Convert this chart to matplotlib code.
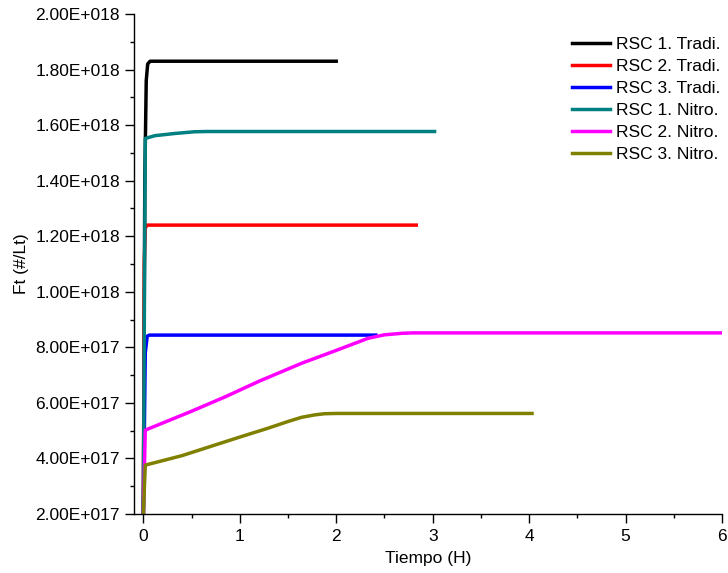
import matplotlib
matplotlib.use("Agg")
import matplotlib.pyplot as plt
from matplotlib.ticker import FuncFormatter, MultipleLocator
import numpy as np

plt.rcParams['font.family'] = ['Liberation Sans', 'DejaVu Sans']

labels = ["RSC 1. Tradi.", "RSC 2. Tradi.", "RSC 3. Tradi.",
          "RSC 1. Nitro.", "RSC 2. Nitro.", "RSC 3. Nitro."]
colors = ["#000000", "#ff0000", "#0000ff", "#008080", "#ff00ff", "#808000"]

x_rsc1_tradi = [0, 0.015, 0.03, 0.045, 0.07, 2.0]
y_rsc1_tradi = [0.2e18, 1.40e18, 1.76e18, 1.82e18, 1.83e18, 1.83e18]

x_rsc2_tradi = [0, 0.01, 0.02, 0.04, 2.83]
y_rsc2_tradi = [0.2e18, 1.10e18, 1.23e18, 1.24e18, 1.24e18]

x_rsc3_tradi = [0, 0.02, 0.04, 0.06, 2.41]
y_rsc3_tradi = [0.2e18, 0.78e18, 0.84e18, 0.844e18, 0.844e18]

x_rsc1_nitro = [0, 0.02, 0.12, 0.33, 0.53, 0.65, 3.02]
y_rsc1_nitro = [0.2e18, 1.552e18, 1.562e18, 1.570e18, 1.576e18, 1.577e18, 1.577e18]

x_rsc2_nitro = [0, 0.02, 0.5, 0.85, 1.2, 1.64, 2.0, 2.33, 2.5, 2.68, 2.8, 6.0]
y_rsc2_nitro = [0.2e18, 0.502e18, 0.57e18, 0.622e18, 0.678e18, 0.7425e18, 0.789e18,
                0.8325e18, 0.845e18, 0.8505e18, 0.852e18, 0.852e18]

x_rsc3_nitro = [0, 0.02, 0.4, 0.74, 1.0, 1.29, 1.5, 1.64, 1.78, 1.88, 2.0, 4.03]
y_rsc3_nitro = [0.2e18, 0.376e18, 0.41e18, 0.448e18, 0.477e18, 0.5085e18, 0.533e18,
                0.548e18, 0.557e18, 0.561e18, 0.562e18, 0.562e18]

series = [(x_rsc1_tradi, y_rsc1_tradi), (x_rsc2_tradi, y_rsc2_tradi),
          (x_rsc3_tradi, y_rsc3_tradi), (x_rsc1_nitro, y_rsc1_nitro),
          (x_rsc2_nitro, y_rsc2_nitro), (x_rsc3_nitro, y_rsc3_nitro)]

fig = plt.figure(figsize=(7.28, 5.73), dpi=100)
ax = fig.add_axes([133.7/728, 59/573, (722-133.7)/728, 500/573])

for (xs, ys), lab, c in zip(series, labels, colors):
    ax.plot(xs, ys, color=c, lw=2.5, label=lab, solid_joinstyle='round')

ax.set_xlim(-0.1, 6)
ax.set_ylim(0.2e18, 2.0e18)
ax.xaxis.set_major_locator(MultipleLocator(1))
ax.xaxis.set_minor_locator(MultipleLocator(0.5))
ax.yaxis.set_major_locator(MultipleLocator(0.2e18))
ax.yaxis.set_minor_locator(MultipleLocator(0.1e18))

def fmt(v, pos):
    if v == 0:
        return "0.00E+000"
    e = int(np.floor(np.log10(abs(v)) + 1e-9))
    m = v / 10**e
    return f"{m:.2f}E+{e:03d}"

ax.yaxis.set_major_formatter(FuncFormatter(fmt))
for s in ['top', 'right']:
    ax.spines[s].set_visible(False)
for s in ['left', 'bottom']:
    ax.spines[s].set_linewidth(1.0)
ax.tick_params(which='major', length=6.3, width=1.0, labelsize=12.5, direction='out')
ax.tick_params(which='minor', length=3, width=1.0, direction='out')
ax.tick_params(axis='x', which='major', pad=4.5)

ax.set_xlabel("Tiempo (H)", fontsize=12.5, va='top')
ax.xaxis.set_label_coords(0.5, -0.074)
ax.set_ylabel("Ft (#/Lt)", fontsize=12.5, labelpad=5)

leg = ax.legend(loc='upper left', bbox_to_anchor=(572/728, 1 - 37/573),
                bbox_transform=fig.transFigure, frameon=False, fontsize=12.5,
                handlelength=2.2, handletextpad=0.35, labelspacing=0.39,
                borderpad=0, borderaxespad=0)

fig.savefig("out.png", dpi=100)
